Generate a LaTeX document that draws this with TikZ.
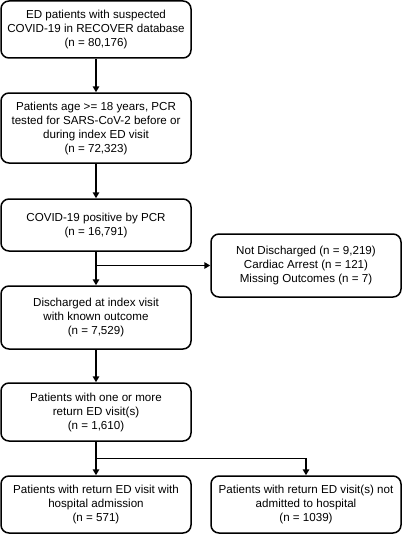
\documentclass[tikz,border=0pt]{standalone}
\usepackage{fontspec}
\setmainfont{Liberation Sans}
\usetikzlibrary{arrows.meta}
\usetikzlibrary{calc}

\tikzset{
  stagebox/.style={draw, line width=1.5pt, rounded corners=8pt, align=center,
    minimum width=190pt, inner sep=2pt, font=\fontsize{11.6}{14}\selectfont},
  flowarrow/.style={line width=1.5pt, -{Triangle[length=6pt,width=6.5pt]}},
}

\begin{document}
\begin{tikzpicture}[x=1pt, y=-1pt]
\useasboundingbox (0,0) rectangle (402,535);

\node[stagebox, minimum height=57pt] (suspected) at (96,29.5) {ED patients with suspected\\COVID-19 in RECOVER database\\(n = 80,176)};
\node[stagebox, minimum height=70pt] (tested) at (96,128) {Patients age >= 18 years, PCR\\tested for SARS-CoV-2 before or\\during index ED visit\\(n = 72,323)};
\node[stagebox, minimum height=52pt] (positive) at (96,225) {COVID-19 positive by PCR\\(n = 16,791)};
\node[stagebox, minimum height=63pt] (excluded) at (306,265.5) {Not Discharged (n = 9,219)\\Cardiac Arrest (n = 121)\\Missing Outcomes (n = 7)};
\node[stagebox, minimum height=63pt] (discharged) at (96,317.5) {Discharged at index visit\\with known outcome\\(n = 7,529)};
\node[stagebox, minimum height=58pt] (returned) at (96,412) {Patients with one or more\\return ED visit(s)\\(n = 1,610)};
\node[stagebox, minimum height=57pt] (admitted) at (96,504.5) {Patients with return ED visit with\\hospital admission\\(n = 571)};
\node[stagebox, minimum height=57pt] (notadmitted) at (306,504.5) {Patients with return ED visit(s) not\\admitted to hospital\\(n = 1039)};

% main column
\draw[flowarrow] (suspected) -- (tested);
\draw[flowarrow] (tested) -- (positive);
\draw[flowarrow] (positive) -- (discharged);
\draw[flowarrow] (discharged) -- (returned);
\draw[flowarrow] (returned) -- (admitted);

% branches
\coordinate (split1) at (positive.south |- excluded.west);
\draw[flowarrow] (split1) -- (excluded.west);

\coordinate (split2) at ($(returned.south)!0.5!(admitted.north)$);
\draw[flowarrow] (split2) -| (notadmitted.north);

\end{tikzpicture}
\end{document}
